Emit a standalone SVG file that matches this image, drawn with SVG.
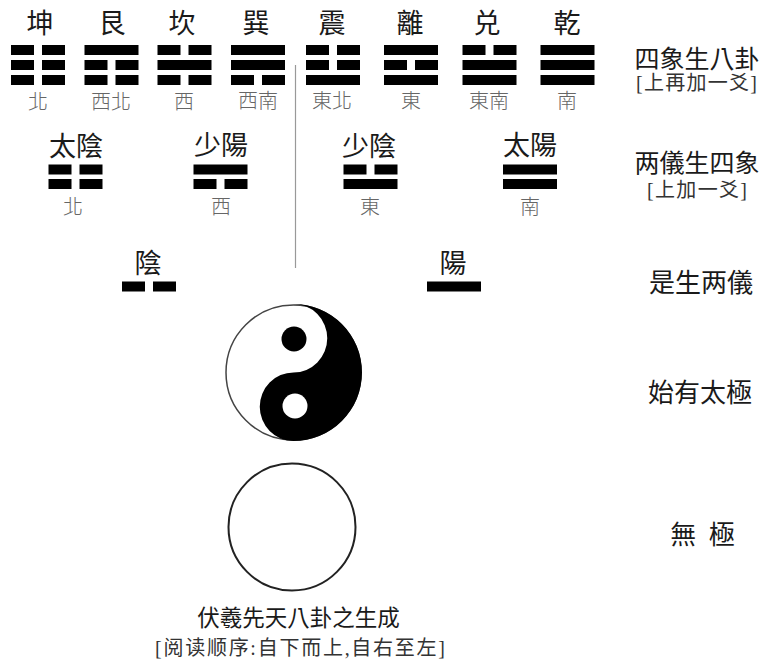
<svg xmlns="http://www.w3.org/2000/svg" width="765" height="660" viewBox="0 0 765 660">
<style>
text{font-family:"Liberation Serif","Noto Sans CJK TC","Noto Sans CJK SC",serif;text-anchor:middle;fill:#1a1a1a}
.n{font-size:27px}
.d{font-size:20px;fill:#666;font-weight:300}
.h{font-size:25px}
.g{font-size:26px}
.s{font-size:20px;fill:#333}
.c{font-size:22.5px}
.r{font-size:20px;fill:#333}
</style>
<defs>
<g id="yang"><rect width="54" height="10" fill="#000"/></g>
<g id="yin"><rect width="23" height="10" fill="#000"/><rect x="31" width="23" height="10" fill="#000"/></g>
</defs>
<rect width="765" height="660" fill="#fff"/>
<g id="connectors"><line x1="295.5" y1="65" x2="295.5" y2="268" stroke="#999" stroke-width="1.2"/></g>
<g id="kun"><text class="n" x="40" y="33">坤</text><use href="#yin" x="11" y="45"/><use href="#yin" x="11" y="60"/><use href="#yin" x="11" y="75"/><text class="d" x="38" y="109">北</text></g>
<g id="gen"><text class="n" x="112" y="33">艮</text><use href="#yang" x="84.5" y="45"/><use href="#yin" x="84.5" y="60"/><use href="#yin" x="84.5" y="75"/><text class="d" x="111" y="109">西北</text></g>
<g id="kan"><text class="n" x="182" y="33">坎</text><use href="#yin" x="157.5" y="45"/><use href="#yang" x="157.5" y="60"/><use href="#yin" x="157.5" y="75"/><text class="d" x="184" y="109">西</text></g>
<g id="xun"><text class="n" x="256" y="33">巽</text><use href="#yang" x="231" y="45"/><use href="#yang" x="231" y="60"/><use href="#yin" x="231" y="75"/><text class="d" x="258" y="108">西南</text></g>
<g id="zhen"><text class="n" x="332" y="33">震</text><use href="#yin" x="306" y="45"/><use href="#yin" x="306" y="60"/><use href="#yang" x="306" y="75"/><text class="d" x="332" y="108">東北</text></g>
<g id="li"><text class="n" x="410" y="33">離</text><use href="#yang" x="384" y="45"/><use href="#yin" x="384" y="60"/><use href="#yang" x="384" y="75"/><text class="d" x="411" y="108">東</text></g>
<g id="dui"><text class="n" x="487" y="33">兑</text><use href="#yin" x="462.5" y="45"/><use href="#yang" x="462.5" y="60"/><use href="#yang" x="462.5" y="75"/><text class="d" x="489" y="108">東南</text></g>
<g id="qian"><text class="n" x="567" y="33">乾</text><use href="#yang" x="540.5" y="45"/><use href="#yang" x="540.5" y="60"/><use href="#yang" x="540.5" y="75"/><text class="d" x="567" y="108">南</text></g>
<g id="taiyin"><text class="n" x="76" y="156">太陰</text><use href="#yin" x="48.5" y="164.5"/><use href="#yin" x="48.5" y="179"/><text class="d" x="73" y="214">北</text></g>
<g id="shaoyang"><text class="n" x="221" y="155">少陽</text><use href="#yang" x="193.5" y="164.5"/><use href="#yin" x="193.5" y="179"/><text class="d" x="221" y="214">西</text></g>
<g id="shaoyin"><text class="n" x="369" y="156">少陰</text><use href="#yin" x="343.5" y="164.5"/><use href="#yang" x="343.5" y="179"/><text class="d" x="370" y="214">東</text></g>
<g id="taiyang"><text class="n" x="530" y="155">太陽</text><use href="#yang" x="503" y="164.5"/><use href="#yang" x="503" y="179"/><text class="d" x="530" y="214">南</text></g>
<g id="yin-node"><text class="n" x="148" y="273">陰</text><use href="#yin" x="122" y="281.5"/></g>
<g id="yang-node"><text class="n" x="453" y="273">陽</text><use href="#yang" x="427" y="281.5"/></g>
<g id="taiji">
<circle cx="293.5" cy="372.5" r="67.5" fill="#fff" stroke="#444" stroke-width="1.5"/>
<path d="M293.5 304A68 68 0 0 1 293.5 441A33.5 34 0 0 1 293.5 372.5A33.5 34 0 0 0 293.5 304Z" fill="#000"/>
<circle cx="294" cy="339" r="12.5" fill="#000"/>
<circle cx="295" cy="406" r="12.5" fill="#fff"/>
</g>
<g id="wuji"><circle cx="292" cy="527" r="63.5" fill="#fff" stroke="#222" stroke-width="2"/></g>
<g id="label-1"><text class="h" x="697" y="68">四象生八卦</text><text class="s" x="696.5" y="90" textLength="121">[上再加一爻]</text></g>
<g id="label-2"><text class="h" x="697" y="172">两儀生四象</text><text class="s" x="697" y="197" textLength="100">[上加一爻]</text></g>
<g id="label-3"><text class="g" x="701" y="292">是生两儀</text></g>
<g id="label-4"><text class="g" x="700" y="402">始有太極</text></g>
<g id="label-5"><text class="g" x="702.5" y="544" word-spacing="6">無 極</text></g>
<g id="caption"><text class="c" x="298.5" y="626">伏羲先天八卦之生成</text><text class="r" x="300" y="655" textLength="290">[阅读顺序:自下而上,自右至左]</text></g>
</svg>
